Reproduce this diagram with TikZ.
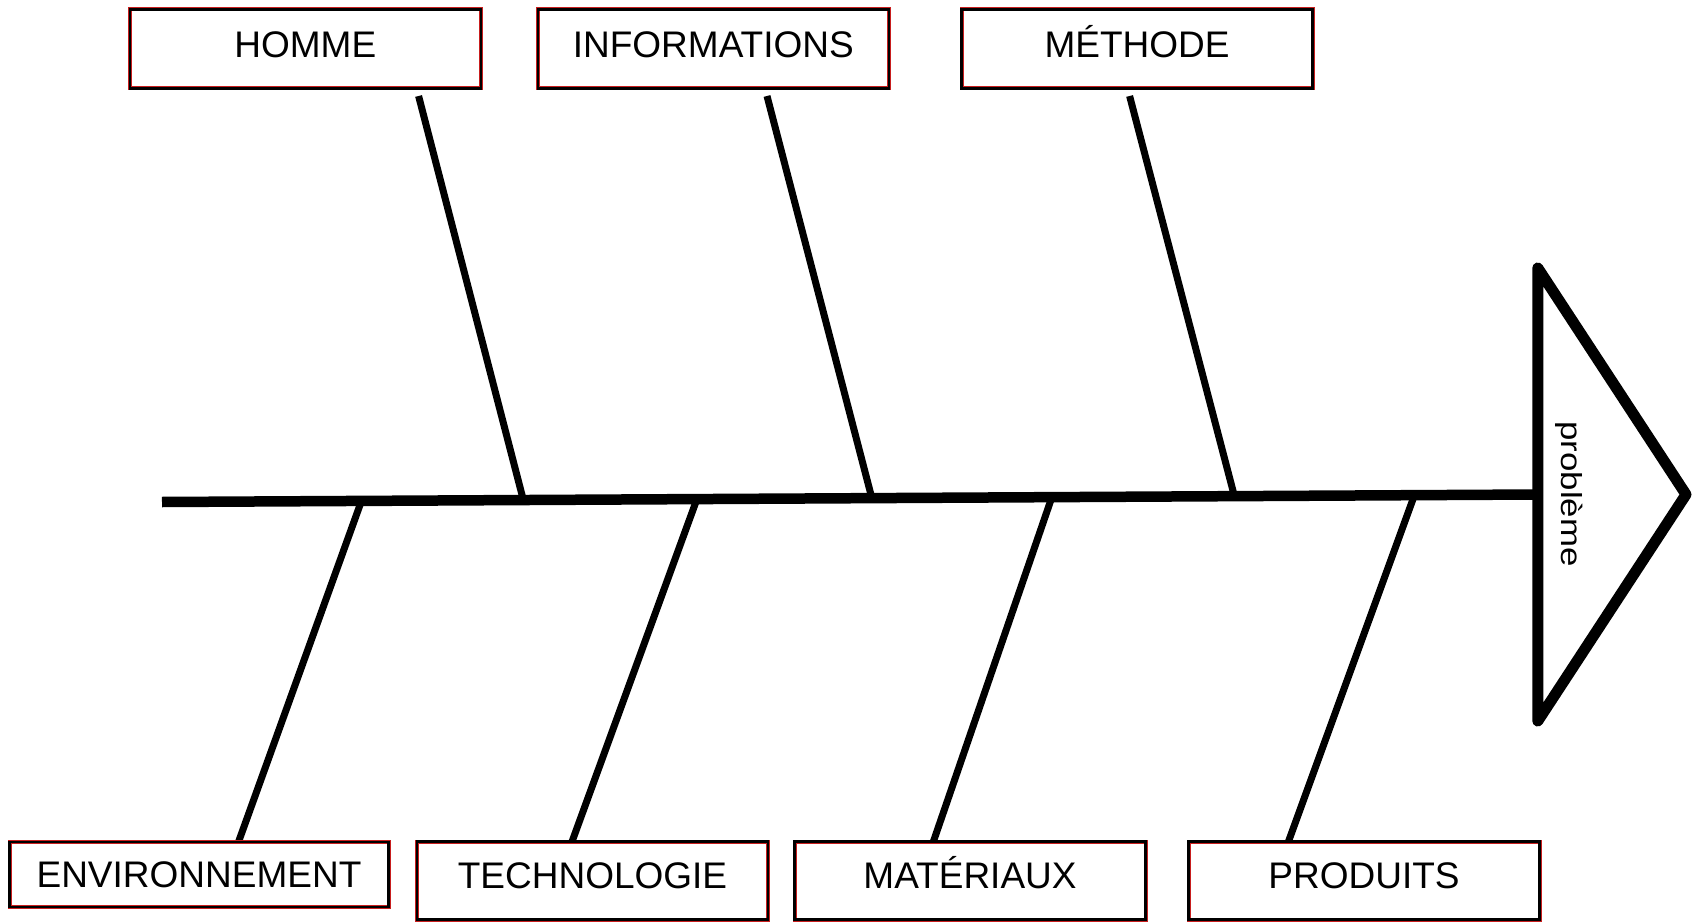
\documentclass[tikz,border=0pt]{standalone}
\usepackage{fontspec}
\setmainfont{Liberation Sans}
\definecolor{boxred}{RGB}{200,30,30}
\begin{document}
\begin{tikzpicture}[x=1pt,y=-1pt,
  catbox/.style={draw=boxred, double=black, line width=0.9pt, double distance=2.2pt,
    fill=white, minimum width=351pt, minimum height=79pt, inner sep=0pt,
    font=\fontsize{37}{44}\selectfont, text height=26.5pt, text depth=10pt},
  bone/.style={line width=7pt},
  spine/.style={line width=10.5pt},
  head/.style={line width=11pt, line join=round, line cap=round}]
\useasboundingbox (0,0) rectangle (1692,923);
% spine
\coordinate (tail) at (162,502);
\coordinate (hb) at (1537.8,494.5);
\coordinate (ht) at (1537.8,268);
\coordinate (hbot) at (1537.8,721);
\coordinate (tip) at (1686,494.5);
\draw[spine] (tail) -- (hb);
\draw[head] (ht) -- (hbot) -- (tip) -- cycle;
\node[rotate=-90, xscale=1.2, font=\fontsize{29}{34}\selectfont, inner sep=0pt] (prob) at (1569,494) {problème};
% top bones
\coordinate (t1a) at (418.6,96); \coordinate (t1b) at (523.3,499.9);
\coordinate (t2a) at (767,96);   \coordinate (t2b) at (871.8,497.9);
\coordinate (t3a) at (1129.6,96);\coordinate (t3b) at (1234.3,495.8);
\draw[bone] (t1a) -- (t1b);
\draw[bone] (t2a) -- (t2b);
\draw[bone] (t3a) -- (t3b);
% bottom bones
\coordinate (b1a) at (361.5,500.8);  \coordinate (b1b) at (237.4,845);
\coordinate (b2a) at (697,498.9);    \coordinate (b2b) at (570.8,845);
\coordinate (b3a) at (1052,496.8);   \coordinate (b3b) at (932.2,845);
\coordinate (b4a) at (1414.6,494.7); \coordinate (b4b) at (1287.2,845);
\draw[bone] (b1a) -- (b1b);
\draw[bone] (b2a) -- (b2b);
\draw[bone] (b3a) -- (b3b);
\draw[bone] (b4a) -- (b4b);
% boxes
\node[catbox] (homme) at (305.3,49) {HOMME};
\node[catbox] (info) at (713.3,49) {INFORMATIONS};
\node[catbox] (meth) at (1137,49) {MÉTHODE};
\node[catbox, minimum width=379pt, minimum height=65pt, text depth=0pt] (env) at (199,874.5) {ENVIRONNEMENT};
\node[catbox, minimum height=78pt] (tech) at (592.5,880.5) {TECHNOLOGIE};
\node[catbox, minimum height=78pt] (mat) at (970,880.5) {MATÉRIAUX};
\node[catbox, minimum height=78pt] (prod) at (1364,880.5) {PRODUITS};
\end{tikzpicture}
\end{document}
